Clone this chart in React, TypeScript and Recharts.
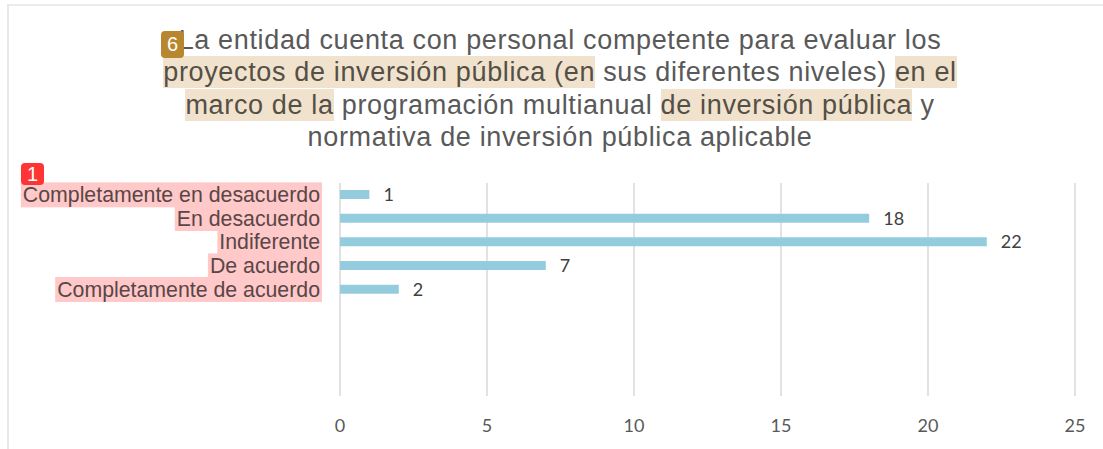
import { BarChart, Bar, XAxis, YAxis, CartesianGrid, LabelList } from 'recharts';

const categories = [
  'Completamente en desacuerdo',
  'En desacuerdo',
  'Indiferente',
  'De acuerdo',
  'Completamente de acuerdo',
];
const counts = [1, 18, 22, 7, 2];
const xTicks = [0, 5, 10, 15, 20, 25];
// the original axis keeps four empty rows under the answers
const rowCount = 9;

const data = Array.from({ length: rowCount }, (_, i) => ({
  row: i,
  value: i < counts.length ? counts[i] : null,
}));

const LABEL_FONT = '21.3px "Liberation Sans"';
let measureCtx: CanvasRenderingContext2D | null = null;
function textWidth(s: string) {
  if (!measureCtx) measureCtx = document.createElement('canvas').getContext('2d');
  if (!measureCtx) return s.length * 10;
  measureCtx.font = LABEL_FONT;
  return measureCtx.measureText(s).width;
}

function CategoryTick(props: any) {
  const { x, y, payload } = props;
  const label = categories[payload.value] ?? '';
  if (!label) return null;
  const w = textWidth(label);
  return (
    <g>
      <rect x={x - w - 2} y={y - 12.5} width={w + 4} height={25} fill="#ffc9c9" />
      <text
        x={x}
        y={y}
        textAnchor="end"
        dominantBaseline="central"
        fill="#594646"
        style={{ font: LABEL_FONT }}
      >
        {label}
      </text>
    </g>
  );
}

const hl = { background: '#f0e2cc', color: '#544f47', padding: '1px 0' };

export default function App() {
  return (
    <div style={{ position: 'relative', width: 1103, height: 449, background: '#fff', overflow: 'hidden' }}>
      <style>{'body{margin:0}'}</style>
      <div
        style={{
          position: 'absolute',
          left: 7,
          top: 4,
          width: 1200,
          height: 500,
          borderTop: '2px solid #ececec',
          borderLeft: '2px solid #e8e8e8',
        }}
      />
      <div
        style={{
          position: 'absolute',
          left: 0,
          width: 1120,
          top: 24,
          textAlign: 'center',
          fontFamily: '"Liberation Sans", Arial, sans-serif',
          fontSize: 27,
          letterSpacing: 0.65,
          lineHeight: '32.3px',
          color: '#595959',
          whiteSpace: 'nowrap',
        }}
      >
        <div>La entidad cuenta con personal competente para evaluar los</div>
        <div>
          <span style={hl}>proyectos de inversión pública (en</span> sus diferentes niveles){' '}
          <span style={hl}>en el</span>
        </div>
        <div>
          <span style={hl}>marco de la</span> programación multianual{' '}
          <span style={hl}>de inversión pública</span> y
        </div>
        <div>normativa de inversión pública aplicable</div>
      </div>
      <div
        style={{
          position: 'absolute',
          left: 161,
          top: 31,
          width: 23,
          height: 27,
          borderRadius: 4,
          background: '#b8862e',
          color: '#fff',
          fontFamily: '"Liberation Sans", Arial, sans-serif',
          fontSize: 20,
          lineHeight: '27px',
          textAlign: 'center',
        }}
      >
        6
      </div>

      <div style={{ position: 'absolute', left: 0, top: 0 }}>
        <BarChart
          width={1103}
          height={449}
          data={data}
          layout="vertical"
          margin={{ top: 183, right: 28, bottom: 23, left: 20 }}
        >
          <CartesianGrid horizontal={false} stroke="#d9d9d9" strokeWidth={1.5} />
          <XAxis
            type="number"
            domain={[0, 25]}
            ticks={xTicks}
            axisLine={false}
            tickLine={false}
            tickSize={0}
            tickMargin={23}
            height={30}
            tick={{ fill: '#595959', fontSize: 18, fontFamily: 'Lato' }}
          />
          <YAxis
            type="category"
            dataKey="row"
            width={320}
            axisLine={false}
            tickLine={false}
            tickSize={0}
            tickMargin={20}
            interval={0}
            tick={<CategoryTick />}
          />
          <Bar dataKey="value" fill="#93cddd" barSize={9} isAnimationActive={false}>
            <LabelList
              dataKey="value"
              position="right"
              offset={14}
              formatter={(v: any) => (v == null ? '' : v)}
              style={{ fill: '#404040', fontSize: 18, fontFamily: 'Lato' }}
            />
          </Bar>
        </BarChart>
      </div>

      <div
        style={{
          position: 'absolute',
          left: 21,
          top: 163,
          width: 23,
          height: 22,
          borderRadius: 4,
          background: '#ff3535',
          color: '#fff',
          fontFamily: '"Liberation Sans", Arial, sans-serif',
          fontSize: 20,
          lineHeight: '22px',
          textAlign: 'center',
        }}
      >
        1
      </div>
    </div>
  );
}
